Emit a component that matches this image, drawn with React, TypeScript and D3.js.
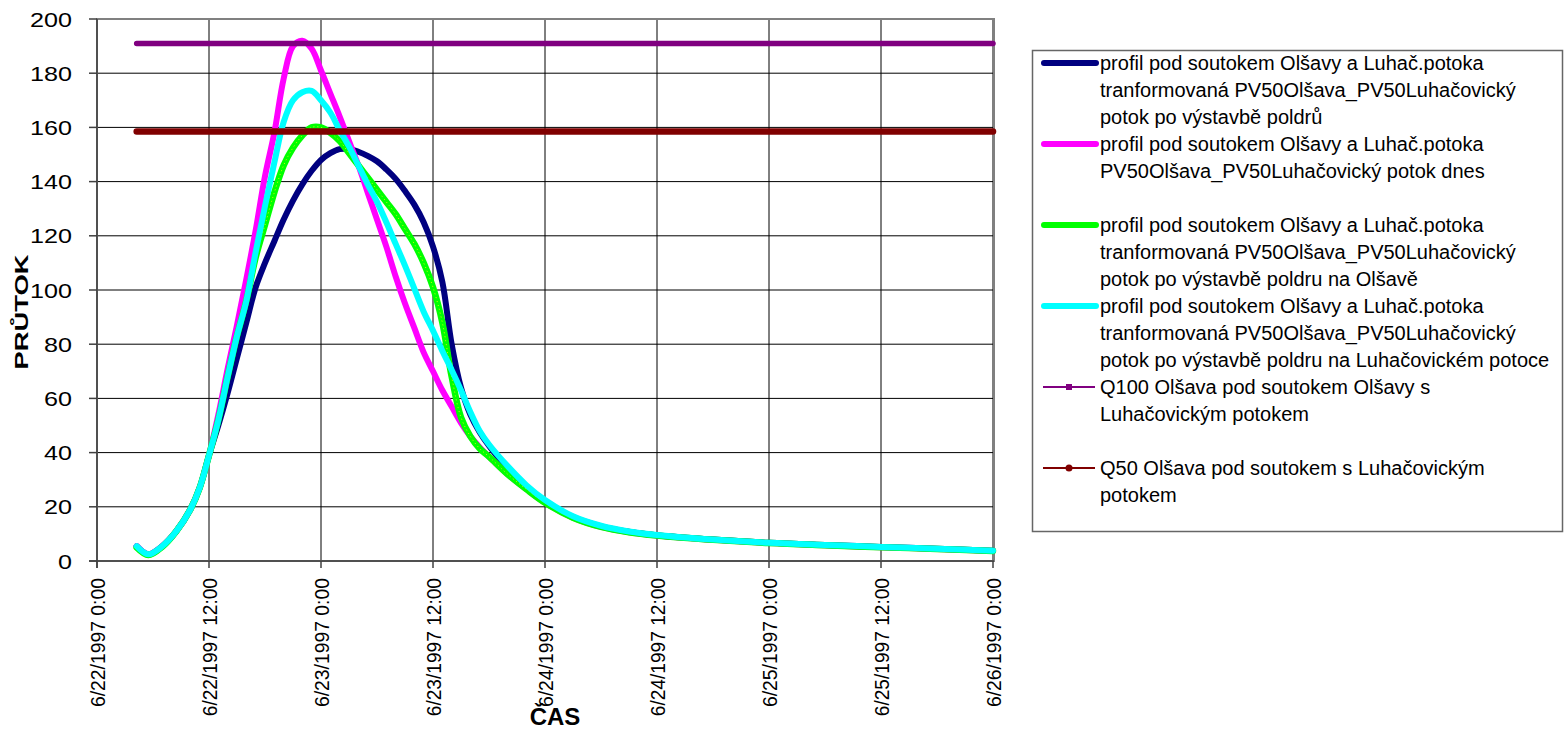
import React from 'react';
import * as d3 from 'd3';

// time in hours since 6/22/1997 0:00
const hours = [4.25, 5.5, 7, 8.5, 10, 11, 12,
  13, 14, 15, 16, 17, 18, 19, 20, 21, 22,
  23, 24, 25, 26, 27, 28, 29, 30, 31, 32,
  33, 34, 35, 36, 37, 38, 39, 40, 41, 42,
  44, 46, 48, 51, 54, 57, 60, 66, 72, 78, 84, 90, 96];

const poPoldrech = [5.5, 2.5, 5.5, 11, 19, 27, 39,
  50, 62, 75, 88, 101, 110, 118, 126, 133, 139,
  144, 148, 150.5, 152, 152, 151, 149.5, 147.5, 144.5, 141,
  136.5, 131.5, 125, 116, 103, 80, 64, 54, 47.5, 42.5,
  34, 27.5, 22, 16.2, 12.8, 10.8, 9.5, 7.9, 6.7, 5.9, 5.2, 4.5, 3.8];

const dnes = [5.5, 2.5, 5.5, 11, 19, 27, 39,
  54, 71, 87, 104, 122, 142, 158, 178, 190, 192,
  189, 181, 172.5, 164, 155, 146, 136, 126, 116, 105,
  95, 86, 77, 70, 63, 57, 51, 46, 42, 38.5,
  32, 26.5, 21.5, 16, 12.6, 10.6, 9.4, 7.8, 6.6, 5.8, 5.1, 4.4, 3.7];

const poldrOlsava = [5, 2.2, 5.3, 11, 19, 27, 39,
  52, 68, 83, 96, 112, 124, 136, 146, 152.5, 157,
  160, 160, 158, 155, 150.5, 146, 141.5, 137, 132.5, 128,
  122.5, 117, 110, 101, 88, 68, 53, 46, 41.5, 38.5,
  32, 26.5, 21.5, 16, 12.6, 10.6, 9.4, 7.8, 6.6, 5.8, 5.1, 4.4, 3.7];

const poldrLuhacovicky = [5.5, 2.5, 5.5, 11, 19, 27, 39,
  52, 68, 83, 96, 114, 131, 147, 162, 170, 173,
  173.5, 170, 165.5, 159, 153, 146, 139, 132.5, 125, 117,
  109, 100.5, 92, 85, 77.5, 70.5, 63, 55, 48, 43,
  35, 28, 22.5, 16.5, 13, 10.9, 9.6, 7.9, 6.7, 5.9, 5.2, 4.5, 3.8];

const q100 = 191;
const q50 = 158.5;

const yTicks = [0, 20, 40, 60, 80, 100, 120, 140, 160, 180, 200];
const xTickHours = [0, 12, 24, 36, 48, 60, 72, 84, 96];
const xTickLabels = ['6/22/1997 0:00', '6/22/1997 12:00', '6/23/1997 0:00', '6/23/1997 12:00',
  '6/24/1997 0:00', '6/24/1997 12:00', '6/25/1997 0:00', '6/25/1997 12:00', '6/26/1997 0:00'];

const legendItems = [
  { lines: ['profil pod soutokem Olšavy a Luhač.potoka', 'tranformovaná PV50Olšava_PV50Luhačovický', 'potok po výstavbě poldrů'], color: '#000080', kind: 'thick' },
  { lines: ['profil pod soutokem Olšavy a Luhač.potoka', 'PV50Olšava_PV50Luhačovický potok dnes'], color: '#FF00FF', kind: 'thick' },
  { lines: ['profil pod soutokem Olšavy a Luhač.potoka', 'tranformovaná PV50Olšava_PV50Luhačovický', 'potok po výstavbě poldru na Olšavě'], color: '#00FF00', kind: 'thick' },
  { lines: ['profil pod soutokem Olšavy a Luhač.potoka', 'tranformovaná PV50Olšava_PV50Luhačovický', 'potok po výstavbě poldru na Luhačovickém potoce'], color: '#00FFFF', kind: 'thick' },
  { lines: ['Q100 Olšava pod soutokem Olšavy s', 'Luhačovickým potokem'], color: '#800080', kind: 'square' },
  { lines: ['Q50 Olšava pod soutokem s Luhačovickým', 'potokem'], color: '#800000', kind: 'circle' },
];

const FONT = '"Liberation Sans", Arial, Helvetica, sans-serif';

export default function App() {
  const W = 1564, H = 736;
  const x = d3.scaleLinear().domain([0, 96]).range([97, 993]);
  const y = d3.scaleLinear().domain([0, 200]).range([561, 19]);
  const line = d3.line<[number, number]>()
    .x(d => x(d[0]))
    .y(d => y(d[1]))
    .curve(d3.curveCatmullRom.alpha(0.5));
  const straight = d3.line<[number, number]>().x(d => x(d[0])).y(d => y(d[1]));

  const toPts = (vals: number[]) => hours.map((h, i) => [h, vals[i]] as [number, number]);
  const constPts = (v: number) => hours.map(h => [h, v] as [number, number]);

  const x0 = x(0), x1 = x(96), yTop = y(200), yBot = y(0);

  return (
    <svg width={W} height={H} style={{ position: 'absolute', left: 0, top: 0, background: '#fff' }}
      fontFamily={FONT}>
      <rect x={0} y={0} width={W} height={H} fill="#fff" />
      {/* gridlines */}
      {yTicks.map(t => (
        <line key={'gy' + t} x1={x0} x2={x1} y1={y(t)} y2={y(t)} stroke="#000" strokeWidth={1} />
      ))}
      {xTickHours.map(h => (
        <line key={'gx' + h} x1={x(h)} x2={x(h)} y1={yTop} y2={yBot} stroke="#000" strokeWidth={1} />
      ))}
      {/* plot border */}
      <rect x={x0} y={yTop} width={x1 - x0 + 1} height={yBot - yTop} fill="none" stroke="#808080" strokeWidth={2} />
      {/* axes */}
      <line x1={x0} x2={x0} y1={yTop} y2={yBot + 7} stroke="#404040" strokeWidth={1.5} />
      <line x1={x0 - 8} x2={x1 + 1} y1={yBot} y2={yBot} stroke="#404040" strokeWidth={1.5} />
      {yTicks.map(t => (
        <line key={'ty' + t} x1={x0 - 8} x2={x0} y1={y(t)} y2={y(t)} stroke="#404040" strokeWidth={1.5} />
      ))}
      {xTickHours.map(h => (
        <line key={'tx' + h} x1={x(h)} x2={x(h)} y1={yBot} y2={yBot + 7} stroke="#404040" strokeWidth={1.5} />
      ))}
      {/* y tick labels */}
      {yTicks.map(t => {
        const s = String(t);
        return (
          <text key={'ly' + t} x={72} y={y(t)} textAnchor="end" dominantBaseline="central"
            fontSize={20.5} textLength={14 * s.length} lengthAdjust="spacingAndGlyphs" fill="#000">{s}</text>
        );
      })}
      {/* x tick labels */}
      {xTickHours.map((h, i) => (
        <text key={'lx' + h} transform={`translate(${x(h) + 0.5},578) rotate(-90)`} textAnchor="end"
          dominantBaseline="central" fontSize={20} textLength={129 * xTickLabels[i].length / 14}
          lengthAdjust="spacingAndGlyphs" fill="#000">{xTickLabels[i]}</text>
      ))}
      {/* series */}
      <path d={line(toPts(poPoldrech)) || ''} fill="none" stroke="#000080" strokeWidth={6} strokeLinejoin="round" strokeLinecap="round" />
      <path d={line(toPts(dnes)) || ''} fill="none" stroke="#FF00FF" strokeWidth={6} strokeLinejoin="round" strokeLinecap="round" />
      <path d={line(toPts(poldrOlsava)) || ''} fill="none" stroke="#00FF00" strokeWidth={6.5} strokeLinejoin="round" strokeLinecap="round" />
      <path d={line(toPts(poldrOlsava)) || ''} fill="none" stroke="#D8FF00" strokeWidth={1} strokeDasharray="1 3" />
      <path d={line(toPts(poldrLuhacovicky)) || ''} fill="none" stroke="#00FFFF" strokeWidth={6} strokeLinejoin="round" strokeLinecap="round" />
      <path d={straight(constPts(q100)) || ''} fill="none" stroke="#800080" strokeWidth={5.5} strokeLinecap="round" />
      <path d={straight(constPts(q50)) || ''} fill="none" stroke="#800000" strokeWidth={6.5} strokeLinecap="round" />
      {/* axis titles */}
      <text transform="translate(22,312) rotate(-90)" textAnchor="middle" dominantBaseline="central"
        fontSize={18} fontWeight="bold" textLength={115} lengthAdjust="spacingAndGlyphs" fill="#000">PRŮTOK</text>
      <text x={555} y={725} textAnchor="middle" fontSize={24} fontWeight="bold" fill="#000">ČAS</text>
      {/* legend */}
      <rect x={1032.5} y={50.5} width={530} height={481} fill="#fff" stroke="#666" strokeWidth={1.5} />
      {legendItems.map((it, i) => {
        const cy = 63 + 81 * i;
        return (
          <g key={'lg' + i}>
            {it.kind === 'thick' ? (
              <line x1={1044} x2={1096} y1={cy} y2={cy} stroke={it.color} strokeWidth={6} strokeLinecap="round" />
            ) : (
              <line x1={1043} x2={1095} y1={cy} y2={cy} stroke={it.color} strokeWidth={2} />
            )}
            {it.kind === 'square' && <rect x={1066} y={cy - 3} width={6} height={6} fill={it.color} />}
            {it.kind === 'circle' && <circle cx={1069} cy={cy} r={3.5} fill={it.color} />}
            {it.lines.map((t, j) => (
              <text key={j} x={1100} y={cy + 27 * j} dominantBaseline="central" fontSize={20} fill="#000">{t}</text>
            ))}
          </g>
        );
      })}
    </svg>
  );
}
